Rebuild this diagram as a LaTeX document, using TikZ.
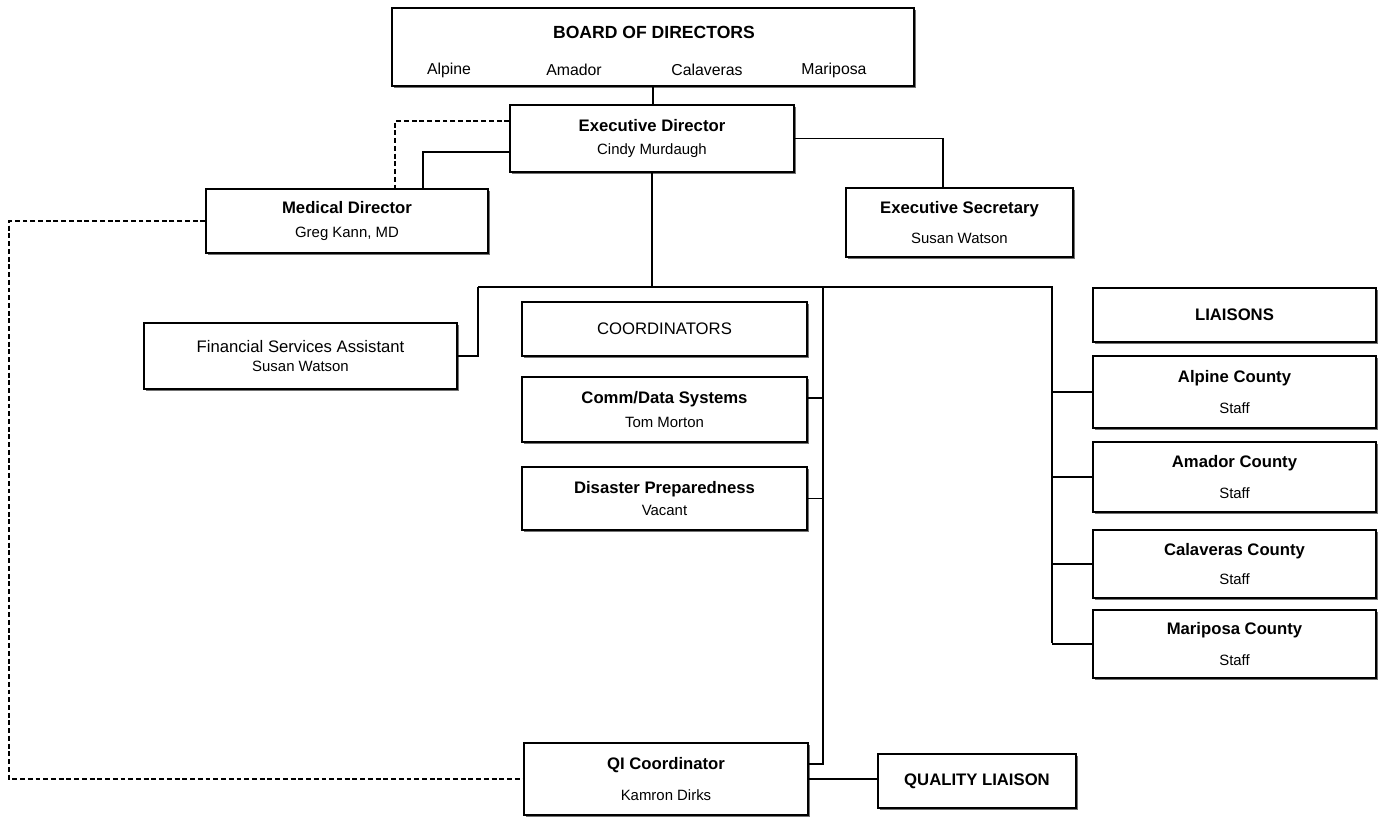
\documentclass[tikz,border=0pt]{standalone}
\usepackage{fontspec}
\setmainfont{Liberation Sans}
\usetikzlibrary{positioning,shadows}

\newcommand{\who}[1]{{\fontsize{8.5}{10}\selectfont #1}}

\begin{document}
\begin{tikzpicture}[x=0.02cm,y=-0.02cm,
	box/.style={draw,line width=0.85pt,fill=white,inner sep=2pt,align=center,
		font=\fontsize{9.5}{11.5}\selectfont,
		general shadow={fill=black!55,shadow xshift=1.3pt,shadow yshift=-1.3pt}},
	link/.style={line width=0.85pt},
	dots/.style={line width=0.85pt,dash pattern=on 2.8pt off 1.6pt}]
	\useasboundingbox (0,0) rectangle (1380,819);

	% board
	\node[box,minimum width=10.44cm,minimum height=1.56cm] (board) at (653,47) {};
	\node[font=\bfseries\fontsize{10}{12}\selectfont] (boardtitle) at (654,32) {BOARD OF DIRECTORS};
	\begin{scope}[every node/.style={font=\fontsize{9}{11}\selectfont}]
		\node (balp) at (449,70) {Alpine};
		\node (bama) at (574,70) {Amador};
		\node (bcal) at (707,70) {Calaveras};
		\node (bmar) at (834,70) {Mariposa};
	\end{scope}

	% staff
	\node[box,minimum width=5.68cm,minimum height=1.34cm] (exec) at (652,138.5)
		{\textbf{Executive Director}\\[2.1pt]\who{Cindy Murdaugh}};
	\node[box,minimum width=5.64cm,minimum height=1.28cm] (med) at (347,221)
		{\textbf{Medical Director}\\[2.7pt]\who{Greg Kann, MD}};
	\node[box,minimum width=4.54cm,minimum height=1.38cm] (sec) at (959.5,222.5)
		{\textbf{Executive Secretary}\\[5.5pt]\who{Susan Watson}};
	\node[box,minimum width=6.26cm,minimum height=1.32cm] (fsa) at (300.5,356)
		{Financial Services Assistant\\[-0.2pt]\who{Susan Watson}};

	% coordinators
	\node[box,minimum width=5.70cm,minimum height=1.08cm] (coord) at (664.5,329) {COORDINATORS};
	\node[box,minimum width=5.70cm,minimum height=1.30cm] (comm) at (664.5,409.5)
		{\textbf{Comm/Data Systems}\\[2.7pt]\who{Tom Morton}};
	\node[box,minimum width=5.70cm,minimum height=1.26cm] (dis) at (664.5,498.5)
		{\textbf{Disaster Preparedness}\\[1pt]\who{Vacant}};
	\node[box,minimum width=5.68cm,minimum height=1.44cm] (qi) at (666,779)
		{\textbf{QI Coordinator}\\[6.5pt]\who{Kamron Dirks}};
	\node[box,minimum width=3.96cm,minimum height=1.08cm] (ql) at (977,781) {\textbf{QUALITY LIAISON}};

	% liaisons
	\node[box,minimum width=5.66cm,minimum height=1.08cm] (liai) at (1234.5,315) {\textbf{LIAISONS}};
	\node[box,minimum width=5.66cm,minimum height=1.44cm] (lalp) at (1234.5,392)
		{\textbf{Alpine County}\\[6pt]\who{Staff}};
	\node[box,minimum width=5.66cm,minimum height=1.40cm] (lama) at (1234.5,477)
		{\textbf{Amador County}\\[6pt]\who{Staff}};
	\node[box,minimum width=5.66cm,minimum height=1.36cm] (lcal) at (1234.5,564)
		{\textbf{Calaveras County}\\[5.5pt]\who{Staff}};
	\node[box,minimum width=5.66cm,minimum height=1.36cm] (lmar) at (1234.5,644)
		{\textbf{Mariposa County}\\[6pt]\who{Staff}};

	% elbows
	\coordinate (busl) at (478,287);
	\coordinate (busr) at (1052,287);
	\coordinate (qspine) at (823,764);
	\coordinate (lspine) at (1052,643);
	\coordinate (commj) at (823,398);
	\coordinate (medj) at (423,152);
	\coordinate (medd) at (395,121);
	\coordinate (secj) at (943,138.5);
	\coordinate (dcorner) at (9,779);

	% lines
	\draw[link] (board.south) -- (board.south |- exec.north);
	\draw[link] (exec.south) -- (exec.south |- busl);
	\draw[link] (busl) -- (busr) -- (lspine);
	\draw[link] (fsa.east) -| (busl);
	\draw[link] (busl -| qspine) -- (qspine) -- (qspine -| qi.east);
	\draw[link] (commj -| comm.east) -- (commj);
	\draw[link] (dis.east) -- (dis.east -| qspine);
	\draw[link] (qi.east) -- (qi.east -| ql.west);
	\foreach \c in {lalp,lama,lcal,lmar}
		\draw[link] (\c.west) -- (\c.west -| lspine);
	\draw[link] (exec.west |- medj) -- (medj) -- (medj |- med.north);
	\draw[link] (exec.east) -- (secj) -- (secj |- sec.north);
	\draw[dots] (exec.west |- medd) -- (medd) -- (medd |- med.north);
	\draw[dots] (med.west) -| (dcorner) -- (qi.west);
\end{tikzpicture}
\end{document}
